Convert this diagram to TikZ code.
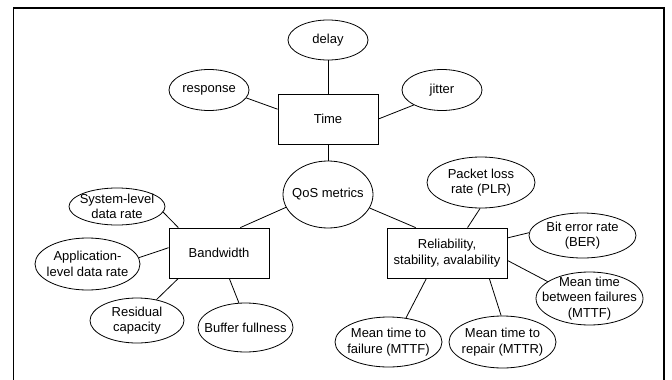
\documentclass[tikz,border=0pt]{standalone}
\usepackage{fontspec}
\setmainfont{Liberation Sans}
\usetikzlibrary{shapes.geometric}

\begin{document}
\begin{tikzpicture}[x=1pt, y=-1pt,
      every node/.style={font=\fontsize{13}{15.5}\selectfont},
      group/.style={draw, line width=0.8pt, minimum width=100pt, minimum height=50pt, align=center, inner sep=2pt},
      attr/.style={draw, ellipse, line width=0.8pt, inner sep=0pt},
      txt/.style={align=center, inner sep=0pt},
      link/.style={line width=0.8pt}]
      \useasboundingbox (0,0) rectangle (672,380);
      \draw[line width=1.6pt] (13.5,386) -- (13.5,8) -- (664,8) -- (664,386);
      % groups
      \node[group] (time) at (328,119) {Time};
      \node[group] (bw) at (219,253) {Bandwidth};
      \node[group, minimum width=120pt] (rel) at (447,253) {Reliability,\\stability, avalability};
      % metrics
      \node[attr, minimum width=90pt, minimum height=67pt, label={[txt]center:QoS metrics}] (qos) at (328,194.5) {};
      \node[attr, minimum width=80pt, minimum height=40pt, label={[txt]center:delay}] (delay) at (328,40) {};
      \node[attr, minimum width=80pt, minimum height=41pt, label={[txt]center:response}] (resp) at (209,90) {};
      \node[attr, minimum width=80pt, minimum height=41pt, label={[txt]center:jitter}] (jitter) at (442,90) {};
      \node[attr, minimum width=96pt, minimum height=37pt, label={[txt]center:System-level\\data rate}] (sys) at (117,206.5) {};
      \node[attr, minimum width=105pt, minimum height=52pt, label={[txt]center:Application-\\level data rate}] (app) at (87.5,264) {};
      \node[attr, minimum width=94pt, minimum height=45pt, label={[txt]center:Residual\\capacity}] (res) at (137,320.5) {};
      \node[attr, minimum width=95pt, minimum height=49pt, label={[txt]center:Buffer fullness}] (buf) at (245.5,327.5) {};
      \node[attr, minimum width=108pt, minimum height=51pt, label={[txt]center:Packet loss\\rate (PLR)}] (plr) at (481,182.5) {};
      \node[attr, minimum width=107pt, minimum height=45pt, label={[txt]center:Bit error rate\\(BER)}] (ber) at (582.5,235.5) {};
      \node[attr, minimum width=107pt, minimum height=53pt, label={[txt]center:Mean time\\between failures\\(MTTF)}] (mtbf) at (589.5,298.5) {};
      \node[attr, minimum width=107pt, minimum height=50pt, label={[txt]center:Mean time to\\failure (MTTF)}] (mttf) at (388.5,342) {};
      \node[attr, minimum width=107pt, minimum height=52pt, label={[txt]center:Mean time to\\repair (MTTR)}] (mttr) at (502.5,342) {};
      % links
      \draw[link] (delay.south) -- (time.north);
      \draw[link] (resp.348) -- (time.169);
      \draw[link] (jitter.208) -- (time.east);
      \draw[link] (time.south) -- (qos.north);
      \draw[link] (qos.197) -- (bw.50);
      \draw[link] (qos.342) -- (rel.141);
      \draw[link] (sys.353) -- (bw.148);
      \draw[link] (app.7) -- (bw.174);
      \draw[link] (res.47) -- (bw.212);
      \draw[link] (buf.105) -- (bw.292);
      \draw[link] (plr.268) -- (rel.51);
      \draw[link] (rel.14) -- (ber.177);
      \draw[link] (rel.353) -- (mtbf.158);
      \draw[link] (rel.231) -- (mttf.54);
      \draw[link] (rel.329) -- (mttr.93);
    \end{tikzpicture}
\end{document}
